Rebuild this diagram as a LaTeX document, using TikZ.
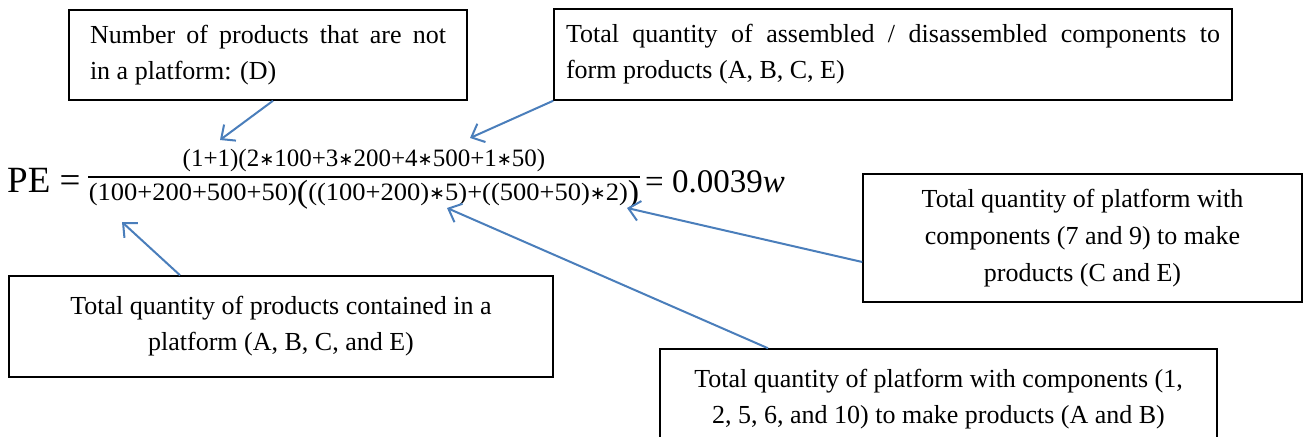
\documentclass[tikz,border=0pt]{standalone}
\usepackage{fontspec}
\setmainfont{Liberation Serif}
\newfontfamily\djv{DejaVu Sans}
\usetikzlibrary{arrows.meta}
\definecolor{arrowblue}{RGB}{74,126,187}
\newcommand\mystar{{\djv\fontsize{18}{18}\selectfont\raisebox{0.5pt}{∗}}}
\newcommand\bigop{{\fontsize{32}{32}\selectfont\raisebox{-2pt}{(}}}
\newcommand\bigcl{{\fontsize{32}{32}\selectfont\raisebox{-2pt}{)}}}
\begin{document}
\begin{tikzpicture}[x=1pt,y=-1pt,
  box/.style={draw,line width=1.5pt,inner sep=0pt,font=\fontsize{26}{36}\selectfont},
  conn/.style={arrowblue,line width=2pt,-{Straight Barb[length=11pt,width=20pt,line width=2pt]}},
  frac/.style={inner sep=0pt,font=\fontsize{25}{25}\selectfont},
  big/.style={inner sep=0pt,font=\fontsize{37}{37}\selectfont},
  res/.style={inner sep=0pt,font=\fontsize{33}{33}\selectfont}
]
\useasboundingbox[fill=white] (0,0) rectangle (1308,436);
% boxes
\node[box,minimum width=398pt,minimum height=90pt,text width=356pt,align=justify] (bd) at (268,55)
  {Number of products that are not\linebreak in a platform: (D)};
\node[box,minimum width=678pt,minimum height=91pt,text width=654pt,align=justify] (ba) at (893,54.5)
  {Total quantity of assembled / disassembled components to\linebreak form products (A, B, C, E)};
\node[box,minimum width=544pt,minimum height=101pt,align=center] (bp) at (281,326.5)
  {Total quantity of products contained in a\\platform (A, B, C, and E)};
\node[box,minimum width=439pt,minimum height=128pt,align=center,font=\fontsize{26}{37}\selectfont] (bc) at (1082.5,238)
  {Total quantity of platform with\\components (7 and 9) to make\\products (C and E)};
\node[box,minimum width=557pt,minimum height=100pt,align=center] (bb) at (938.5,399)
  {Total quantity of platform with components (1,\\2, 5, 6, and 10) to make products (A and B)};
% formula
\node[big,anchor=base west] (pe) at (7,192) {PE =};
\node[frac,anchor=base] (num) at (364,166)
  {(1+1)(2\mystar100+3\mystar200+4\mystar500+1\mystar50)};
\node[frac,anchor=base] (den) at (364,200)
  {\scalebox{1.06}[1]{(100+200+500+50)\bigop((100+200)\mystar5)+((500+50)\mystar2)\bigcl}};
\draw[line width=1.5pt] (88,177) -- (640,177);
\node[res,anchor=base west] (res) at (645,192) {= 0.0039\textit{w}};
% arrow tips
\coordinate (t1) at (220,140);
\coordinate (t2) at (470,138);
\coordinate (t3) at (122,222);
\coordinate (t4) at (447,208);
\coordinate (t5) at (627,208);
\draw[conn] ([xshift=5pt]bd.south) -- (t1);
\draw[conn] (ba.south west) -- (t2);
\draw[conn] ([xshift=-101pt]bp.north) -- (t3);
\draw[conn] ([xshift=-170.5pt]bb.north) -- (t4);
\draw[conn] ([yshift=-24pt]bc.west) -- (t5);
\end{tikzpicture}
\end{document}
